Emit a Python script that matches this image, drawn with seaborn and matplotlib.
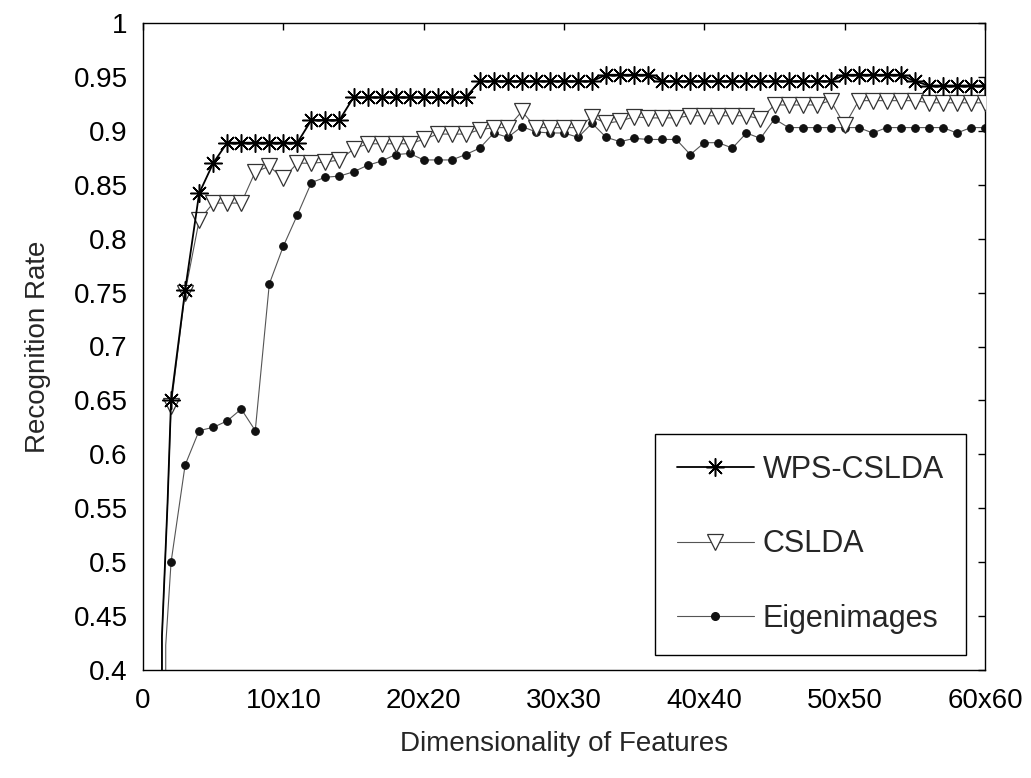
import numpy as np
import pandas as pd
import matplotlib
matplotlib.use("Agg")
import matplotlib.pyplot as plt
from matplotlib.lines import Line2D
import seaborn as sns

# ---------------- data ----------------
n_values = [2, 3, 4, 5, 6, 7, 8, 9, 10, 11, 12, 13, 14, 15, 16, 17, 18, 19, 20,
            21, 22, 23, 24, 25, 26, 27, 28, 29, 30, 31, 32, 33, 34, 35, 36, 37, 38, 39, 40,
            41, 42, 43, 44, 45, 46, 47, 48, 49, 50, 51, 52, 53, 54, 55, 56, 57, 58, 59, 60]

wps_cslda = [0.650, 0.752, 0.842, 0.870,
             0.889, 0.889, 0.889, 0.889, 0.889, 0.889,
             0.910, 0.910, 0.910,
             0.931, 0.931, 0.931, 0.931, 0.931, 0.931, 0.931, 0.931, 0.931,
             0.946, 0.946, 0.946, 0.946, 0.946, 0.946, 0.946, 0.946, 0.946,
             0.952, 0.952, 0.952, 0.952,
             0.946, 0.946, 0.946, 0.946, 0.946, 0.946, 0.946, 0.946, 0.946, 0.946, 0.946, 0.946, 0.946,
             0.952, 0.952, 0.952, 0.952, 0.952,
             0.946,
             0.942, 0.942, 0.942, 0.942, 0.942]

cslda = [0.645, 0.750, 0.817,
         0.833, 0.833, 0.833,
         0.862, 0.867, 0.856, 0.870, 0.870, 0.871, 0.873,
         0.883,
         0.888, 0.888, 0.888, 0.888,
         0.892,
         0.897, 0.897, 0.897,
         0.901,
         0.903, 0.903,
         0.918,
         0.903, 0.903, 0.903, 0.903,
         0.913, 0.907, 0.909, 0.913,
         0.912, 0.912, 0.912,
         0.914, 0.914, 0.914, 0.914, 0.914,
         0.911,
         0.924, 0.924, 0.924, 0.924,
         0.928,
         0.905,
         0.928, 0.928, 0.928, 0.928, 0.928,
         0.926, 0.926, 0.926, 0.926, 0.926]

eigenimages = [0.500, 0.590, 0.622, 0.625, 0.631, 0.642, 0.622, 0.758, 0.793, 0.822,
               0.852, 0.857, 0.858, 0.862, 0.868, 0.872, 0.878, 0.879, 0.873, 0.873,
               0.873, 0.878, 0.884, 0.898, 0.894, 0.904, 0.899, 0.898, 0.898, 0.894,
               0.907, 0.894, 0.890, 0.893, 0.892, 0.892, 0.892, 0.878, 0.889, 0.889,
               0.884, 0.898, 0.893, 0.911,
               0.903, 0.903, 0.903, 0.903, 0.903, 0.903,
               0.898,
               0.903, 0.903, 0.903, 0.903, 0.903,
               0.898, 0.903, 0.903]

# lead-in segments (curves rising from below the visible range)
lead_x_cslda = [1.35, 1.35, 1.55, 1.75]
lead_y_cslda = [0.30, 0.431, 0.493, 0.555]
lead_x_eigen = [1.62, 1.62]
lead_y_eigen = [0.30, 0.423]

series_names = ["WPS-CSLDA", "CSLDA", "Eigenimages"]
x_ticks = [0, 10, 20, 30, 40, 50, 60]
x_tick_labels = ["0", "10x10", "20x20", "30x30", "40x40", "50x50", "60x60"]
y_ticks = [0.4, 0.45, 0.5, 0.55, 0.6, 0.65, 0.7, 0.75, 0.8, 0.85, 0.9, 0.95, 1.0]
y_tick_labels = ["0.4", "0.45", "0.5", "0.55", "0.6", "0.65", "0.7", "0.75",
                 "0.8", "0.85", "0.9", "0.95", "1"]

# ---------------- style ----------------
sns.set_style("white")
plt.rcParams["font.family"] = ["Liberation Sans", "DejaVu Sans"]
plt.rcParams["axes.linewidth"] = 1.0

fig = plt.figure(figsize=(10.31, 7.78), dpi=100)
ax = fig.add_axes([143 / 1031, 108 / 778, 842 / 1031, 647 / 778])

def make_df(lead_x, lead_y, vals):
    return pd.DataFrame({"x": list(lead_x) + n_values, "y": list(lead_y) + vals})

df_w = make_df(lead_x_cslda, lead_y_cslda, wps_cslda)
df_c = make_df(lead_x_cslda, lead_y_cslda, cslda)
df_e = make_df(lead_x_eigen, lead_y_eigen, eigenimages)

mk_w = list(range(len(lead_x_cslda), len(df_w)))
mk_c = list(range(len(lead_x_cslda), len(df_c)))
mk_e = list(range(len(lead_x_eigen), len(df_e)))

gray = "#555555"

eig_style = dict(color=gray, linewidth=0.8, marker="o", markersize=5.5,
                 markerfacecolor="#111111", markeredgecolor="#111111")
csl_style = dict(color=gray, linewidth=0.8, marker="v", markersize=11,
                 markerfacecolor="white", markeredgecolor="#333333", markeredgewidth=0.9)
wps_style = dict(color="black", linewidth=1.3, marker=(8, 2, 0), markersize=13,
                 markeredgecolor="black", markeredgewidth=1.1)

sns.lineplot(data=df_e, x="x", y="y", ax=ax, estimator=None, sort=False,
             markevery=mk_e, zorder=2, **eig_style)
sns.lineplot(data=df_c, x="x", y="y", ax=ax, estimator=None, sort=False,
             markevery=mk_c, zorder=3, **csl_style)
sns.lineplot(data=df_w, x="x", y="y", ax=ax, estimator=None, sort=False,
             markevery=mk_w, zorder=4, **wps_style)

ax.set_xlim(0, 60)
ax.set_ylim(0.4, 1.0)
ax.set_xticks(x_ticks)
ax.set_xticklabels(x_tick_labels)
ax.set_yticks(y_ticks)
ax.set_yticklabels(y_tick_labels)
ax.tick_params(direction="in", length=5, width=1, top=True, right=True,
               labelsize=20, colors="black")
ax.tick_params(axis="x", pad=13)
ax.tick_params(axis="y", pad=11)
for sp in ax.spines.values():
    sp.set_visible(True)
    sp.set_color("black")

ax.set_xlabel("Dimensionality of Features", fontsize=20, labelpad=12)
ax.set_ylabel("Recognition Rate", fontsize=20, labelpad=16)

handles = [Line2D([], [], **wps_style),
           Line2D([], [], **csl_style),
           Line2D([], [], **eig_style)]
leg = ax.legend(handles, series_names, loc="lower right",
                bbox_to_anchor=(0.977, 0.023), fontsize=22, frameon=True,
                fancybox=False, edgecolor="black", framealpha=1,
                handlelength=2.55, handletextpad=0.28, labelspacing=1.45,
                borderpad=0.7, borderaxespad=0)
leg.get_frame().set_linewidth(1.0)

fig.savefig("out.png", dpi=100, facecolor="white")
